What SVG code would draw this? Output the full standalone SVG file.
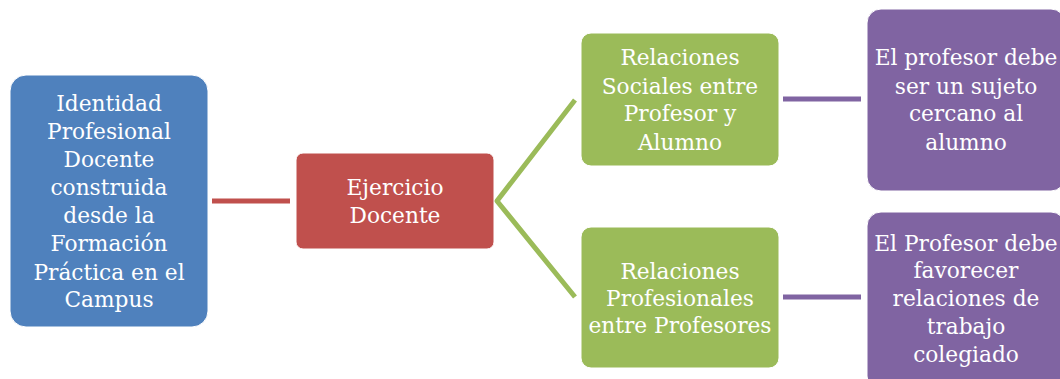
<svg xmlns="http://www.w3.org/2000/svg" width="1060" height="379" viewBox="0 0 1060 379">
<style>
.t{font-family:"DejaVu Serif","Liberation Serif",serif;font-size:21.7px;fill:#fff;text-anchor:middle}
.blue{fill:#4F81BD;stroke:#fff;stroke-width:1}
.red{fill:#C0504D;stroke:#fff;stroke-width:1}
.green{fill:#9BBB59;stroke:#fff;stroke-width:1}
.purple{fill:#8064A2;stroke:#fff;stroke-width:1}
.c{fill:none;stroke-width:5}
</style>
<rect width="1060" height="379" fill="#fff"/>
<g id="connectors">
<line class="c" x1="212" y1="201" x2="290" y2="201" stroke="#C0504D"/>
<polyline class="c" points="575,100 497,201 575,297" stroke="#9BBB59"/>
<line class="c" x1="783" y1="99" x2="861" y2="99" stroke="#8064A2"/>
<line class="c" x1="783" y1="297" x2="861" y2="297" stroke="#8064A2"/>
</g>
<g id="n1">
<rect class="blue" x="10" y="75" width="198" height="252" rx="16"/>
<text class="t"><tspan x="109" y="111">Identidad</tspan><tspan x="109" y="139">Profesional</tspan><tspan x="109" y="167">Docente</tspan><tspan x="109" y="195">construida</tspan><tspan x="109" y="223">desde la</tspan><tspan x="109" y="251">Formación</tspan><tspan x="109" y="280">Práctica en el</tspan><tspan x="109" y="307">Campus</tspan></text>
</g>
<g id="n2">
<rect class="red" x="296" y="153" width="198" height="96" rx="7"/>
<text class="t"><tspan x="395" y="195">Ejercicio</tspan><tspan x="395" y="223">Docente</tspan></text>
</g>
<g id="n3">
<rect class="green" x="581" y="33" width="198" height="133" rx="10"/>
<text class="t"><tspan x="680" y="65">Relaciones</tspan><tspan x="680" y="94">Sociales entre</tspan><tspan x="680" y="121">Profesor y</tspan><tspan x="680" y="150">Alumno</tspan></text>
</g>
<g id="n4">
<rect class="green" x="581" y="227" width="198" height="141" rx="10"/>
<text class="t"><tspan x="680" y="279">Relaciones</tspan><tspan x="680" y="306">Profesionales</tspan><tspan x="680" y="333">entre Profesores</tspan></text>
</g>
<g id="n5">
<rect class="purple" x="867" y="9" width="198" height="182" rx="14"/>
<text class="t"><tspan x="966" y="65">El profesor debe</tspan><tspan x="966" y="94">ser un sujeto</tspan><tspan x="966" y="121">cercano al</tspan><tspan x="966" y="150">alumno</tspan></text>
</g>
<g id="n6">
<rect class="purple" x="867" y="212" width="198" height="178" rx="14"/>
<text class="t"><tspan x="966" y="251">El Profesor debe</tspan><tspan x="966" y="278">favorecer</tspan><tspan x="966" y="306">relaciones de</tspan><tspan x="966" y="334">trabajo</tspan><tspan x="966" y="362">colegiado</tspan></text>
</g>
</svg>
